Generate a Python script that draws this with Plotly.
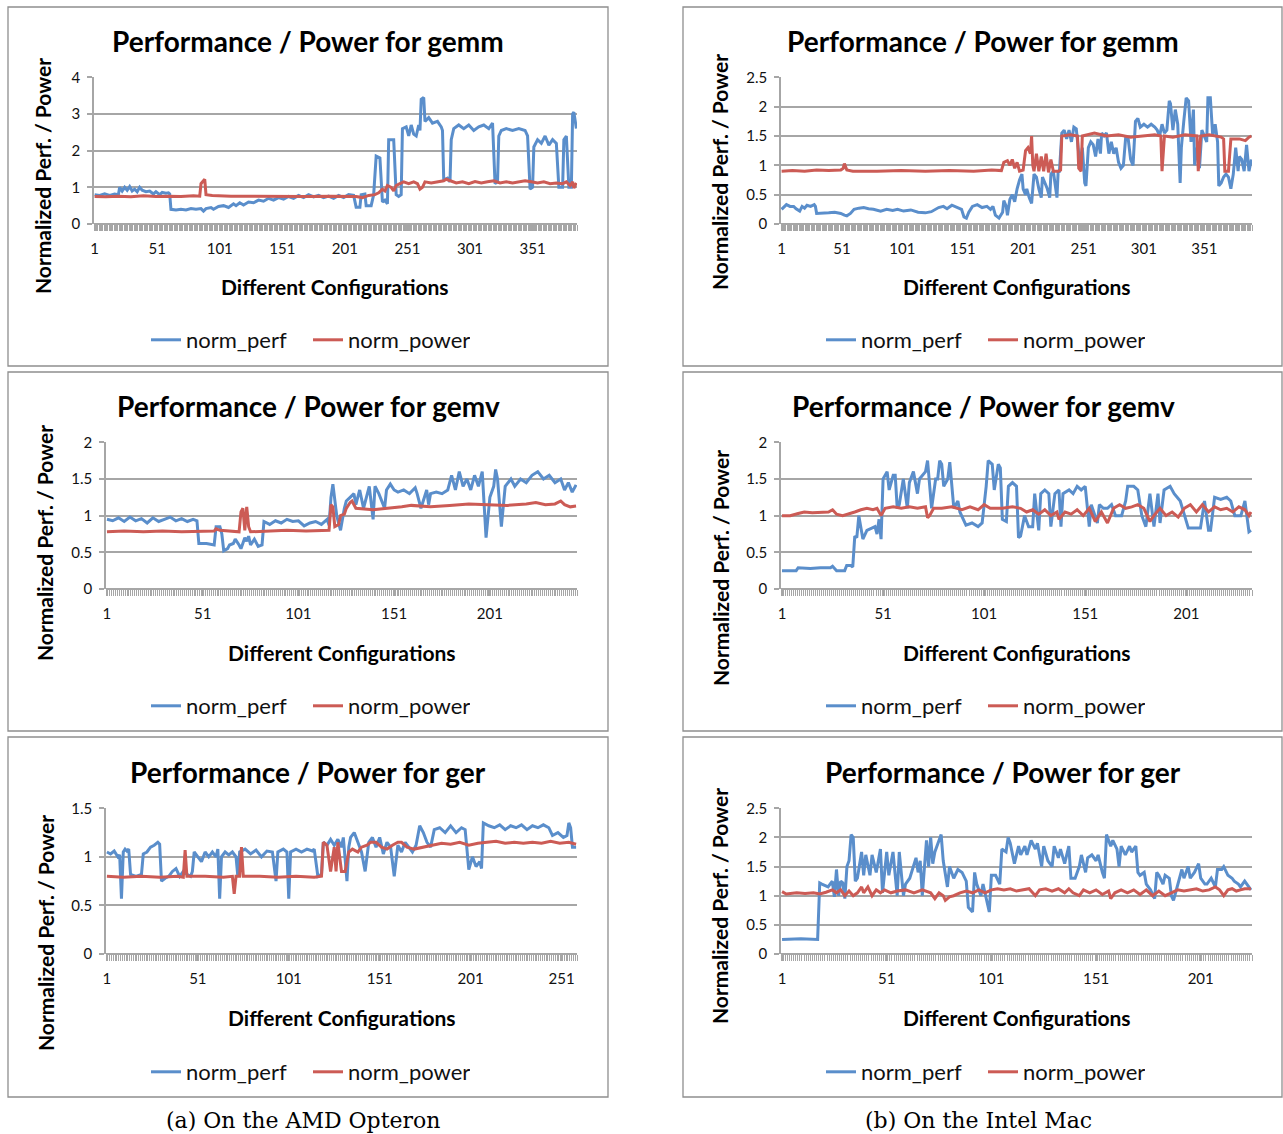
import plotly.graph_objects as go

W, H = 1283, 1134

# ---------------- data ----------------
series_names = ["norm_perf", "norm_power"]
panel_titles = [
    "Performance / Power for gemm", "Performance / Power for gemm",
    "Performance / Power for gemv", "Performance / Power for gemv",
    "Performance / Power for ger", "Performance / Power for ger",
]
n_configs = [386, 390, 246, 233, 259, 225]
y_max = [4, 2.5, 2, 2, 1.5, 2.5]
y_step = [1, 0.5, 0.5, 0.5, 0.5, 0.5]
x_title = "Different Configurations"
y_title = "Normalized Perf. / Power"
captions = ["(a) On the AMD Opteron", "(b) On the Intel Mac"]

# (configuration, value) pairs
gemm_amd_perf = [
    (1, 0.8), (5, 0.78), (9, 0.82), (13, 0.78), (17, 0.82), (20, 0.8), (21, 1.0), (23, 0.9), (25, 1.0), (27, 0.92),
    (29, 1.02), (31, 0.9), (33, 0.95), (35, 0.88), (37, 1.0), (39, 0.92), (42, 0.88), (45, 0.9), (48, 0.82), (50, 0.88),
    (53, 0.8), (55, 0.86), (58, 0.84), (60, 0.85), (61, 0.82), (62, 0.4), (66, 0.38), (70, 0.4), (74, 0.38), (78, 0.42),
    (82, 0.4), (86, 0.42), (88, 0.35), (90, 0.42), (94, 0.45), (96, 0.4), (100, 0.48), (104, 0.5), (108, 0.45), (112, 0.55),
    (114, 0.5), (117, 0.58), (120, 0.52), (124, 0.6), (128, 0.58), (132, 0.65), (136, 0.62), (140, 0.7), (144, 0.65),
    (148, 0.72), (152, 0.68), (156, 0.75), (160, 0.7), (164, 0.78), (168, 0.72), (172, 0.8), (176, 0.74), (180, 0.78),
    (184, 0.72), (188, 0.76), (192, 0.7), (196, 0.78), (200, 0.72), (204, 0.8), (208, 0.78), (210, 0.46), (213, 0.46),
    (214, 0.8), (217, 0.82), (218, 0.5), (222, 0.5), (224, 0.8), (226, 1.85), (229, 1.8), (231, 0.6), (233, 0.65),
    (235, 0.55), (236, 2.3), (240, 2.3), (242, 0.8), (244, 0.75), (246, 0.8), (247, 2.6), (250, 2.65), (252, 2.4),
    (254, 2.7), (256, 2.45), (258, 2.4), (260, 2.7), (261, 2.55), (262, 3.4), (264, 3.45), (265, 2.8), (268, 2.9),
    (271, 2.75), (275, 2.8), (278, 2.65), (279, 2.55), (280, 1.2), (283, 1.25), (285, 1.15), (286, 2.3), (288, 2.6),
    (292, 2.7), (296, 2.6), (300, 2.7), (304, 2.55), (308, 2.65), (312, 2.7), (316, 2.6), (319, 2.75), (321, 1.1),
    (323, 1.15), (324, 2.4), (326, 2.55), (330, 2.6), (335, 2.55), (340, 2.6), (345, 2.55), (347, 2.4), (349, 0.95),
    (351, 1.0), (352, 2.1), (355, 2.3), (358, 2.2), (361, 2.4), (364, 2.15), (367, 2.3), (370, 2.2), (372, 1.0),
    (375, 1.0), (376, 2.3), (378, 2.4), (380, 1.0), (382, 1.0), (383, 3.0), (384, 3.05), (386, 2.6),
]
gemm_amd_power = [
    (1, 0.75), (10, 0.74), (20, 0.76), (30, 0.74), (40, 0.77), (50, 0.75), (60, 0.76), (70, 0.75), (80, 0.77),
    (85, 0.76), (86, 1.1), (88, 1.2), (89, 1.22), (90, 0.8), (95, 0.78), (110, 0.76), (130, 0.75), (150, 0.76),
    (170, 0.75), (190, 0.76), (210, 0.75), (215, 0.72), (220, 0.78), (225, 0.8), (228, 0.85), (231, 0.95), (233, 0.9),
    (235, 1.05), (238, 1.0), (240, 0.9), (242, 1.05), (245, 1.1), (248, 1.15), (252, 1.1), (256, 1.15), (259, 1.1),
    (261, 0.95), (263, 1.0), (265, 1.15), (270, 1.12), (275, 1.15), (280, 1.18), (282, 1.22), (285, 1.18), (290, 1.12),
    (295, 1.15), (300, 1.1), (305, 1.16), (310, 1.12), (315, 1.15), (320, 1.18), (325, 1.12), (330, 1.15), (335, 1.12),
    (340, 1.14), (345, 1.18), (350, 1.15), (355, 1.12), (360, 1.15), (365, 1.1), (370, 1.12), (375, 1.1), (378, 1.15),
    (381, 1.05), (383, 1.15), (384, 0.98), (386, 1.12),
]
gemm_mac_perf = [
    (1, 0.25), (3, 0.3), (5, 0.33), (8, 0.3), (11, 0.3), (13, 0.26), (16, 0.22), (18, 0.3), (20, 0.27), (22, 0.32),
    (25, 0.3), (28, 0.33), (29, 0.3), (30, 0.18), (35, 0.18), (40, 0.19), (45, 0.2), (50, 0.18), (53, 0.15), (55, 0.14),
    (58, 0.18), (61, 0.25), (65, 0.27), (69, 0.28), (73, 0.26), (77, 0.25), (83, 0.22), (88, 0.25), (93, 0.23),
    (97, 0.25), (102, 0.22), (108, 0.24), (114, 0.2), (120, 0.19), (125, 0.21), (131, 0.28), (135, 0.3), (138, 0.26),
    (142, 0.32), (146, 0.28), (150, 0.25), (152, 0.12), (154, 0.1), (156, 0.2), (159, 0.3), (163, 0.33), (167, 0.28),
    (171, 0.3), (174, 0.25), (176, 0.3), (178, 0.15), (181, 0.1), (184, 0.2), (185, 0.4), (187, 0.3), (188, 0.15),
    (190, 0.42), (192, 0.5), (194, 0.38), (196, 0.6), (198, 0.75), (200, 0.85), (201, 0.6), (203, 0.5), (204, 0.6),
    (206, 0.45), (208, 0.35), (210, 0.85), (212, 0.8), (214, 0.6), (216, 0.45), (217, 0.8), (219, 0.7), (221, 0.6),
    (223, 0.45), (224, 0.85), (226, 0.9), (227, 0.75), (229, 0.45), (230, 0.9), (231, 0.88), (233, 1.55), (235, 1.6),
    (237, 1.45), (239, 1.6), (241, 1.4), (243, 1.65), (245, 1.62), (246, 1.4), (248, 1.0), (250, 1.3), (252, 0.7),
    (253, 0.65), (255, 1.3), (257, 1.4), (259, 1.35), (261, 1.15), (263, 1.45), (265, 1.2), (266, 1.55), (268, 1.5),
    (270, 1.55), (272, 1.2), (274, 1.4), (276, 1.2), (278, 1.3), (280, 1.05), (282, 0.95), (284, 1.0), (286, 1.5),
    (288, 1.45), (290, 1.1), (292, 1.0), (294, 1.75), (296, 1.8), (298, 1.65), (301, 1.7), (304, 1.65), (307, 1.7),
    (310, 1.65), (312, 1.6), (314, 1.5), (316, 1.7), (318, 1.55), (320, 1.6), (322, 2.1), (323, 2.05), (325, 1.6),
    (327, 1.95), (329, 1.7), (331, 0.7), (332, 1.3), (334, 1.75), (336, 2.15), (338, 2.1), (340, 1.4), (342, 1.95),
    (343, 1.0), (345, 1.3), (347, 0.95), (349, 1.6), (351, 1.5), (353, 1.4), (354, 2.15), (356, 2.15), (358, 1.5),
    (360, 1.7), (362, 1.4), (363, 0.65), (365, 0.7), (367, 0.8), (369, 0.85), (371, 0.8), (373, 0.6), (375, 0.85),
    (377, 1.3), (379, 0.9), (380, 1.15), (382, 1.1), (384, 0.9), (386, 1.35), (388, 0.9), (390, 1.1),
]
gemm_mac_power = [
    (1, 0.9), (10, 0.91), (20, 0.9), (30, 0.92), (40, 0.91), (50, 0.92), (52, 0.95), (53, 1.03), (55, 0.92), (60, 0.9),
    (80, 0.9), (100, 0.91), (120, 0.9), (140, 0.91), (160, 0.9), (175, 0.92), (183, 0.91), (185, 1.05), (188, 1.08),
    (190, 1.0), (192, 1.1), (194, 0.95), (196, 1.05), (198, 0.9), (201, 0.92), (203, 1.25), (205, 1.3), (207, 1.2),
    (208, 1.5), (209, 1.0), (210, 0.9), (212, 1.2), (214, 0.9), (216, 1.15), (218, 0.9), (220, 1.2), (222, 0.88),
    (224, 1.1), (226, 0.9), (230, 0.9), (232, 0.92), (233, 1.5), (240, 1.52), (246, 1.5), (247, 0.95), (249, 0.9),
    (250, 1.5), (260, 1.55), (270, 1.5), (280, 1.52), (290, 1.48), (300, 1.5), (310, 1.52), (315, 1.5), (316, 0.9),
    (318, 1.5), (325, 1.48), (335, 1.52), (345, 1.5), (346, 0.9), (348, 1.5), (355, 1.52), (365, 1.48), (367, 1.45),
    (368, 0.9), (371, 0.9), (373, 1.45), (380, 1.45), (385, 1.42), (388, 1.48), (390, 1.5),
]
gemv_amd_perf = [
    (1, 0.95), (4, 0.93), (7, 0.97), (10, 0.92), (13, 0.98), (16, 0.93), (19, 0.96), (22, 0.9), (25, 0.97), (28, 0.92),
    (31, 0.95), (34, 0.98), (37, 0.93), (40, 0.96), (43, 0.92), (46, 0.95), (48, 0.93), (49, 0.62), (53, 0.62),
    (57, 0.6), (58, 0.85), (60, 0.85), (61, 0.75), (62, 0.52), (64, 0.55), (65, 0.6), (67, 0.62), (68, 0.68), (70, 0.6),
    (71, 0.55), (73, 0.7), (74, 0.65), (75, 0.72), (76, 0.6), (78, 0.68), (80, 0.58), (82, 0.6), (83, 0.92), (86, 0.88),
    (89, 0.93), (92, 0.9), (95, 0.95), (98, 0.92), (101, 0.93), (104, 0.86), (107, 0.9), (110, 0.92), (113, 0.88),
    (116, 0.95), (117, 0.87), (118, 1.25), (119, 1.43), (121, 1.0), (123, 0.8), (125, 1.1), (126, 1.2), (128, 1.25),
    (130, 1.3), (131, 1.15), (133, 1.35), (135, 1.1), (138, 1.4), (140, 0.95), (141, 1.4), (143, 1.3), (146, 1.1),
    (147, 1.35), (149, 1.43), (151, 1.35), (153, 1.32), (156, 1.35), (159, 1.3), (162, 1.38), (163, 1.3), (165, 1.1),
    (168, 1.35), (169, 1.15), (170, 1.3), (173, 1.32), (176, 1.3), (179, 1.35), (181, 1.55), (183, 1.35), (185, 1.6),
    (187, 1.4), (189, 1.5), (191, 1.35), (193, 1.55), (195, 1.4), (197, 1.6), (199, 0.7), (201, 1.25), (203, 1.4),
    (204, 1.63), (205, 1.5), (207, 0.85), (209, 1.4), (212, 1.5), (214, 1.4), (217, 1.5), (220, 1.45), (223, 1.55),
    (226, 1.6), (229, 1.5), (232, 1.55), (235, 1.45), (238, 1.5), (240, 1.35), (242, 1.45), (244, 1.32), (246, 1.42),
]
gemv_amd_power = [
    (1, 0.78), (10, 0.79), (20, 0.78), (30, 0.79), (40, 0.78), (50, 0.78), (57, 0.79), (58, 0.82), (60, 0.8),
    (70, 0.78), (71, 1.05), (72, 1.1), (73, 0.8), (74, 1.12), (75, 0.85), (76, 0.78), (85, 0.79), (95, 0.8),
    (105, 0.79), (115, 0.8), (117, 0.8), (118, 1.15), (119, 1.12), (120, 0.85), (122, 0.88), (123, 1.0), (125, 1.02),
    (126, 1.1), (128, 1.18), (129, 1.2), (131, 1.1), (140, 1.08), (150, 1.1), (155, 1.12), (160, 1.14), (170, 1.12),
    (180, 1.14), (190, 1.16), (200, 1.15), (210, 1.14), (220, 1.16), (225, 1.18), (230, 1.15), (235, 1.16),
    (238, 1.2), (240, 1.15), (243, 1.12), (246, 1.13),
]
gemv_mac_perf = [
    (1, 0.25), (8, 0.25), (9, 0.29), (15, 0.28), (20, 0.29), (25, 0.29), (26, 0.31), (27, 0.28), (28, 0.25),
    (32, 0.25), (33, 0.32), (35, 0.32), (36, 0.3), (37, 0.72), (38, 0.7), (39, 1.0), (40, 0.85), (41, 0.68),
    (43, 0.8), (45, 0.83), (47, 0.85), (48, 0.75), (49, 0.95), (50, 0.68), (51, 1.5), (53, 1.6), (54, 1.35),
    (56, 1.55), (57, 1.55), (58, 1.1), (59, 1.15), (61, 1.5), (63, 1.1), (64, 1.45), (66, 1.6), (68, 1.3), (69, 1.5),
    (72, 1.6), (73, 1.75), (75, 1.1), (77, 1.5), (78, 1.5), (79, 1.75), (80, 1.7), (81, 1.4), (83, 1.5), (84, 1.73),
    (86, 1.1), (88, 1.2), (89, 1.05), (92, 0.87), (95, 0.9), (98, 0.85), (100, 0.9), (102, 1.4), (103, 1.75),
    (105, 1.7), (106, 1.35), (108, 1.7), (109, 1.65), (110, 0.95), (112, 0.92), (113, 1.4), (115, 1.45), (117, 1.4),
    (118, 0.7), (119, 0.72), (121, 1.0), (123, 0.85), (125, 0.85), (126, 1.3), (128, 0.8), (129, 1.3), (131, 1.35),
    (133, 1.3), (134, 0.85), (136, 1.3), (138, 1.35), (139, 0.85), (140, 1.3), (143, 1.35), (145, 1.3), (147, 1.4),
    (149, 1.35), (151, 1.4), (153, 0.85), (154, 1.15), (157, 0.9), (158, 1.15), (160, 1.1), (162, 1.1), (164, 1.15),
    (166, 1.0), (169, 1.0), (171, 1.2), (172, 1.4), (175, 1.4), (177, 1.35), (179, 1.0), (181, 0.85), (183, 1.3),
    (185, 0.85), (187, 1.3), (188, 0.9), (190, 1.35), (193, 1.4), (195, 1.3), (198, 1.2), (200, 1.0), (202, 0.83),
    (208, 0.83), (210, 1.2), (212, 0.8), (213, 0.8), (215, 1.25), (218, 1.22), (221, 1.25), (223, 1.2), (225, 1.0),
    (228, 1.0), (230, 1.2), (232, 0.78), (233, 0.8),
]
gemv_mac_power = [
    (1, 1.0), (5, 1.0), (9, 1.03), (12, 1.05), (16, 1.04), (20, 1.05), (24, 1.05), (26, 1.08), (28, 1.02), (31, 1.0),
    (34, 1.02), (37, 1.05), (40, 1.08), (43, 1.1), (46, 1.08), (48, 1.1), (50, 1.0), (52, 1.1), (56, 1.12), (60, 1.1),
    (64, 1.12), (68, 1.1), (72, 1.12), (73, 0.97), (74, 1.0), (76, 1.1), (80, 1.1), (85, 1.12), (90, 1.08), (94, 1.12),
    (98, 1.08), (101, 1.15), (104, 1.1), (110, 1.1), (115, 1.12), (119, 1.1), (122, 1.05), (125, 1.08), (128, 1.02),
    (131, 1.08), (134, 1.0), (137, 1.05), (138, 0.95), (141, 1.05), (144, 1.02), (147, 1.08), (150, 1.0), (153, 1.1),
    (156, 0.92), (159, 1.05), (162, 0.9), (165, 1.1), (168, 1.15), (171, 1.1), (174, 1.12), (177, 1.15), (180, 1.1),
    (183, 0.92), (185, 1.0), (188, 1.1), (191, 1.0), (194, 1.05), (197, 0.98), (200, 1.1), (203, 1.15), (206, 1.05),
    (209, 1.15), (212, 1.05), (215, 1.12), (218, 1.08), (221, 1.1), (224, 1.05), (227, 1.12), (230, 1.08), (232, 1.0),
    (233, 1.05),
]
ger_amd_perf = [
    (1, 1.05), (3, 1.03), (5, 1.06), (7, 1.0), (8, 1.02), (9, 0.57), (10, 1.05), (11, 1.08), (12, 1.06), (13, 1.08),
    (14, 0.82), (17, 0.8), (20, 0.82), (21, 1.03), (23, 1.05), (25, 1.1), (27, 1.12), (29, 1.15), (30, 1.13),
    (31, 0.75), (33, 0.78), (35, 0.8), (37, 0.85), (39, 0.88), (41, 0.8), (43, 0.85), (45, 0.82), (47, 0.8), (48, 0.85),
    (49, 1.05), (51, 1.0), (53, 0.95), (55, 1.05), (57, 1.0), (59, 1.05), (61, 1.0), (62, 1.08), (63, 0.57), (64, 1.0),
    (66, 1.05), (68, 1.02), (70, 1.05), (72, 1.0), (73, 0.8), (74, 1.05), (77, 1.08), (80, 1.03), (83, 1.07), (86, 1.0),
    (89, 1.06), (92, 1.05), (94, 0.75), (95, 1.05), (98, 1.08), (100, 1.05), (101, 0.57), (102, 1.05), (105, 1.08),
    (108, 1.05), (111, 1.08), (114, 1.06), (115, 1.08), (117, 0.8), (119, 0.82), (120, 1.15), (122, 1.12), (124, 1.18),
    (126, 1.12), (128, 1.18), (130, 1.1), (131, 1.2), (133, 0.75), (134, 1.1), (135, 1.2), (137, 1.25), (139, 1.15),
    (141, 1.05), (143, 0.85), (145, 1.15), (147, 1.2), (149, 1.1), (151, 1.2), (153, 1.03), (155, 1.15), (157, 1.1),
    (159, 0.8), (161, 1.12), (163, 1.05), (165, 1.15), (167, 1.1), (169, 1.05), (171, 1.12), (173, 1.32), (175, 1.25),
    (177, 1.15), (179, 1.1), (181, 1.28), (184, 1.3), (187, 1.25), (190, 1.32), (193, 1.25), (196, 1.3), (198, 1.28),
    (200, 0.87), (202, 1.0), (204, 0.9), (206, 0.95), (207, 0.88), (208, 1.35), (211, 1.32), (214, 1.3), (217, 1.33),
    (220, 1.28), (223, 1.32), (226, 1.3), (229, 1.33), (232, 1.28), (235, 1.32), (238, 1.3), (241, 1.33), (244, 1.3),
    (246, 1.22), (249, 1.25), (252, 1.2), (254, 1.22), (255, 1.35), (256, 1.3), (257, 1.1), (259, 1.1),
]
ger_amd_power = [
    (1, 0.8), (10, 0.79), (20, 0.8), (30, 0.79), (40, 0.8), (43, 0.79), (44, 1.07), (45, 0.8), (55, 0.8), (65, 0.79),
    (70, 0.8), (71, 0.62), (72, 0.8), (74, 0.8), (75, 1.1), (76, 0.8), (85, 0.8), (95, 0.79), (105, 0.8), (115, 0.79),
    (119, 0.8), (120, 1.15), (122, 1.12), (124, 0.85), (126, 1.1), (127, 0.85), (128, 1.15), (130, 0.85), (132, 0.85),
    (134, 1.05), (136, 1.08), (139, 1.05), (141, 1.1), (144, 1.12), (146, 1.15), (149, 1.15), (152, 1.1), (155, 1.08),
    (158, 1.12), (161, 1.15), (163, 1.15), (166, 1.1), (170, 1.08), (175, 1.1), (180, 1.12), (185, 1.14), (190, 1.13),
    (195, 1.15), (200, 1.12), (205, 1.14), (210, 1.15), (215, 1.16), (220, 1.14), (225, 1.15), (230, 1.14),
    (235, 1.15), (240, 1.14), (245, 1.16), (250, 1.14), (255, 1.15), (259, 1.13),
]
ger_mac_perf = [
    (1, 0.25), (10, 0.26), (18, 0.25), (19, 1.22), (20, 1.2), (23, 1.15), (25, 1.25), (26, 0.98), (27, 1.45), (28, 1.0),
    (29, 1.25), (30, 1.22), (31, 0.95), (32, 1.5), (33, 1.6), (34, 2.05), (35, 2.0), (36, 1.25), (37, 1.3), (39, 1.75),
    (40, 1.35), (41, 1.7), (43, 1.35), (44, 1.7), (46, 1.4), (48, 1.8), (49, 1.05), (51, 1.75), (52, 1.35), (54, 1.75),
    (56, 1.0), (57, 1.75), (59, 1.0), (60, 1.2), (62, 1.3), (64, 1.55), (65, 1.65), (66, 1.4), (67, 1.6), (68, 1.0),
    (70, 1.95), (71, 1.5), (72, 2.0), (73, 1.55), (74, 1.75), (77, 2.05), (78, 1.6), (80, 1.15), (81, 1.5), (83, 1.3),
    (85, 1.45), (87, 1.4), (89, 1.25), (90, 0.8), (92, 0.72), (93, 1.4), (94, 1.2), (96, 1.0), (97, 1.2), (100, 0.72),
    (101, 1.35), (103, 1.35), (105, 1.2), (106, 1.8), (108, 1.75), (109, 2.0), (110, 1.9), (112, 1.55), (114, 1.85),
    (115, 1.7), (117, 1.85), (118, 1.7), (120, 1.95), (122, 1.8), (123, 1.9), (125, 1.5), (126, 1.85), (128, 1.6),
    (130, 1.5), (131, 1.85), (133, 1.65), (134, 1.8), (136, 1.55), (138, 1.85), (139, 1.3), (141, 1.3), (143, 1.5),
    (144, 1.7), (146, 1.4), (147, 1.65), (149, 1.7), (151, 1.6), (152, 1.7), (154, 1.4), (155, 1.3), (156, 2.05),
    (158, 1.85), (159, 1.95), (161, 1.8), (162, 1.5), (163, 1.85), (165, 1.7), (167, 1.85), (168, 1.75), (170, 1.85),
    (171, 1.4), (172, 1.35), (174, 1.4), (175, 1.2), (177, 1.1), (179, 0.95), (180, 1.4), (181, 1.35), (183, 1.2),
    (184, 1.35), (186, 1.3), (187, 1.0), (188, 0.92), (190, 1.2), (192, 1.45), (193, 1.3), (195, 1.5), (196, 1.3),
    (198, 1.4), (200, 1.55), (201, 1.3), (203, 1.2), (204, 1.2), (206, 1.3), (208, 1.15), (209, 1.45), (211, 1.45),
    (212, 1.5), (214, 1.35), (216, 1.3), (217, 1.25), (219, 1.2), (220, 1.15), (222, 1.25), (224, 1.15), (225, 1.1),
]
ger_mac_power = [
    (1, 1.07), (3, 1.03), (8, 1.05), (12, 1.04), (16, 1.05), (19, 1.03), (22, 1.06), (25, 1.1), (27, 1.05), (29, 1.1),
    (31, 1.0), (33, 1.08), (35, 1.0), (37, 1.05), (39, 1.15), (40, 1.05), (42, 1.15), (44, 1.0), (46, 1.1), (48, 1.05),
    (50, 1.1), (53, 1.05), (56, 1.08), (60, 1.1), (64, 1.05), (68, 1.1), (72, 1.05), (74, 0.95), (76, 1.05), (78, 1.0),
    (79, 0.92), (81, 0.98), (83, 1.0), (86, 1.05), (89, 1.08), (92, 1.05), (95, 1.1), (98, 1.05), (101, 1.1),
    (104, 1.12), (107, 1.1), (110, 1.12), (113, 1.08), (116, 1.1), (119, 1.12), (122, 1.0), (124, 1.1), (127, 1.12),
    (130, 1.08), (133, 1.12), (136, 1.05), (138, 1.12), (140, 1.05), (143, 1.0), (145, 1.1), (148, 1.05), (151, 1.1),
    (154, 1.02), (157, 1.08), (158, 0.95), (160, 1.05), (163, 1.1), (166, 1.05), (169, 1.1), (172, 1.02), (175, 1.1),
    (178, 1.0), (181, 1.08), (184, 1.0), (187, 1.05), (190, 1.1), (193, 1.08), (196, 1.1), (199, 1.12), (202, 1.08),
    (205, 1.1), (208, 1.15), (210, 1.1), (212, 1.0), (214, 1.1), (216, 1.12), (218, 1.08), (220, 1.1), (222, 1.12),
    (225, 1.12),
]

panel_series = [
    (gemm_amd_perf, gemm_amd_power),
    (gemm_mac_perf, gemm_mac_power),
    (gemv_amd_perf, gemv_amd_power),
    (gemv_mac_perf, gemv_mac_power),
    (ger_amd_perf, ger_amd_power),
    (ger_mac_perf, ger_mac_power),
]

# ---------------- layout (pixel geometry) ----------------
PANELS = [
    dict(box=(8, 7, 608, 366), plot=(94, 77, 577, 224), title=(308, 41), ytitle=(42, 176), xtitle=(335, 286), legend=(308, 340)),
    dict(box=(683, 7, 1282, 366), plot=(781, 77, 1252, 224), title=(983, 41), ytitle=(719, 172), xtitle=(1017, 286), legend=(983, 340)),
    dict(box=(8, 372, 608, 731), plot=(106, 442, 577, 589), title=(308, 406), ytitle=(44, 543), xtitle=(342, 652), legend=(308, 706)),
    dict(box=(683, 372, 1282, 731), plot=(781, 442, 1252, 589), title=(983, 406), ytitle=(720, 568), xtitle=(1017, 652), legend=(983, 706)),
    dict(box=(8, 737, 608, 1097), plot=(106, 808, 577, 954), title=(308, 772), ytitle=(45, 933), xtitle=(342, 1017), legend=(308, 1072)),
    dict(box=(683, 737, 1282, 1097), plot=(781, 808, 1252, 954), title=(1003, 772), ytitle=(719, 906), xtitle=(1017, 1017), legend=(983, 1072)),
]
CAPTION_POS = [(303, 1120), (979, 1120)]

BLUE = "#5a8ecb"
RED = "#cc5b55"
GRID = "#a6a6a6"
BORDER = "#8f8f8f"
SANS = "Lato, 'Open Sans', sans-serif"
SERIF = "'DejaVu Serif', serif"


def px(x):
    return x / W


def py(y):
    return 1 - y / H


fig = go.Figure()
layout = dict(
    width=W, height=H, margin=dict(l=0, r=0, t=0, b=0, pad=0, autoexpand=False),
    paper_bgcolor="white", plot_bgcolor="white", showlegend=True,
)
annotations = []
shapes = []

for i, (panel, series) in enumerate(zip(PANELS, panel_series)):
    k = "" if i == 0 else str(i + 1)
    x0, y0, x1, y1 = panel["plot"]
    n = n_configs[i]
    for name, data, color in zip(series_names, series, (BLUE, RED)):
        xs = [p[0] for p in data]
        ys = [p[1] for p in data]
        fig.add_trace(go.Scatter(
            x=xs, y=ys, mode="lines", name=name,
            line=dict(color=color, width=3),
            xaxis="x" + k, yaxis="y" + k, legend="legend" + k,
            hoverinfo="skip",
        ))
    tickvals = list(range(1, n + 1, 50))
    layout["xaxis" + k] = dict(
        domain=[px(x0), px(x1)], anchor="y" + k, range=[0.5, n + 0.5],
        tickmode="array", tickvals=tickvals, ticktext=[str(v) for v in tickvals],
        ticks="outside", ticklen=6, tickcolor=GRID, tickwidth=1,
        showgrid=False, showline=False, zeroline=False,
        minor=dict(tickmode="linear", tick0=0.5, dtick=1, ticks="outside",
                   ticklen=6, tickcolor=GRID, tickwidth=1, showgrid=False),
        tickfont=dict(family=SANS, size=15, color="#111"),
        ticklabelstandoff=5, fixedrange=True, automargin=False,
    )
    layout["yaxis" + k] = dict(
        domain=[py(y1), py(y0)], anchor="x" + k, range=[0, y_max[i] * 1.002],
        tickmode="linear", tick0=0, dtick=y_step[i],
        showgrid=True, gridcolor=GRID, gridwidth=1.5,
        zeroline=True, zerolinecolor=GRID, zerolinewidth=1.5,
        showline=True, linecolor=GRID, linewidth=1.5,
        ticks="outside", ticklen=5, tickcolor=GRID, tickwidth=1.5,
        tickfont=dict(family=SANS, size=15, color="#111"),
        ticklabelstandoff=4, fixedrange=True, automargin=False,
    )
    lx, ly = panel["legend"]
    layout["legend" + k] = dict(
        orientation="h", x=px(lx), y=py(ly), xanchor="center", yanchor="middle",
        font=dict(family=SANS, size=22, color="#111"), bgcolor="rgba(0,0,0,0)",
        itemwidth=30, tracegroupgap=0, entrywidth=117, entrywidthmode="pixels",
    )
    bx0, by0, bx1, by1 = panel["box"]
    shapes.append(dict(type="rect", xref="paper", yref="paper",
                       x0=px(bx0), x1=px(bx1), y0=py(by1), y1=py(by0),
                       line=dict(color=BORDER, width=1.3), fillcolor="rgba(0,0,0,0)", layer="below"))
    tx, ty = panel["title"]
    annotations.append(dict(text="<b>" + panel_titles[i] + "</b>", x=px(tx), y=py(ty), xref="paper", yref="paper",
                            xanchor="center", yanchor="middle", showarrow=False,
                            font=dict(family=SANS, size=28, color="#000")))
    yx, yy = panel["ytitle"]
    annotations.append(dict(text="<b>" + y_title + "</b>", x=px(yx), y=py(yy), xref="paper", yref="paper",
                            xanchor="center", yanchor="middle", showarrow=False, textangle=-90,
                            font=dict(family=SANS, size=21, color="#000")))
    xx, xy = panel["xtitle"]
    annotations.append(dict(text="<b>" + x_title + "</b>", x=px(xx), y=py(xy), xref="paper", yref="paper",
                            xanchor="center", yanchor="middle", showarrow=False,
                            font=dict(family=SANS, size=21, color="#000")))

for cap, (cx, cy) in zip(captions, CAPTION_POS):
    annotations.append(dict(text=cap, x=px(cx), y=py(cy), xref="paper", yref="paper",
                            xanchor="center", yanchor="middle", showarrow=False,
                            font=dict(family=SERIF, size=22, color="#000")))

layout["annotations"] = annotations
layout["shapes"] = shapes
fig.update_layout(**layout)
fig.write_html(
    "out.html",
    config={"displayModeBar": False},
    post_script="document.body.style.margin='0';document.body.style.overflow='hidden';",
)
